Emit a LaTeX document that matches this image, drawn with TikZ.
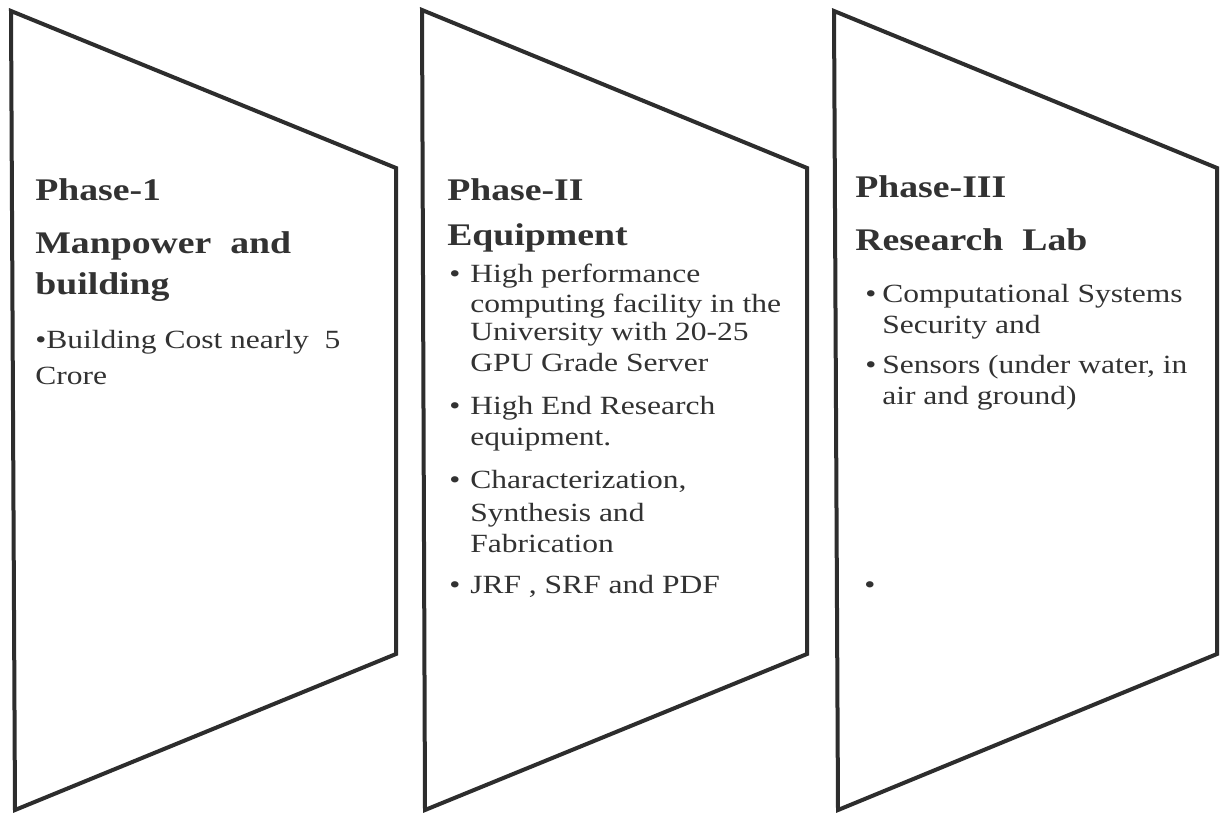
\documentclass[tikz,border=0pt]{standalone}
\usepackage{fontspec}
\setmainfont{Liberation Serif}[FakeStretch=1.2]
\usepackage{xcolor}
\definecolor{phaseline}{RGB}{45,45,45}
\definecolor{phasetext}{RGB}{50,50,50}

\tikzset{
  phasebox/.style={draw=phaseline, line width=3pt, line join=miter},
  phasetitle/.style={anchor=base west, inner sep=0pt, text=phasetext, font=\fontsize{23.6}{28}\selectfont\bfseries},
  phaseitem/.style={anchor=base west, inner sep=0pt, text=phasetext, font=\fontsize{19.7}{23}\selectfont},
}

\begin{document}
\begin{tikzpicture}[x=0.75pt, y=-0.75pt]
    \fill[white] (0,0) rectangle (1220,813);
    \useasboundingbox (0,0) rectangle (1220,813);

    % Phase 1 - Manpower
    \draw[phasebox] (11,11) -- (396,168) -- (396,654) -- (15,810) -- cycle;
    \node[phasetitle] (ph1) at (35,200) {Phase-1};
    \node[phasetitle] (mp1) at (35,253) {Manpower\ \ and};
    \node[phasetitle] (mp2) at (35,294) {building};
    \node[phaseitem] (bc1) at (35,348) {\textbullet Building Cost nearly\ \ 5};
    \node[phaseitem] (bc2) at (35,384) {Crore};

    % Phase 2 - Equipment
    \draw[phasebox] (422,10) -- (807,168) -- (807,654) -- (425,810) -- cycle;
    \node[phasetitle] (ph2) at (447,200) {Phase-II};
    \node[phasetitle] (eq1) at (447,245) {Equipment};
    \node[phaseitem] (hb1) at (449,282) {\textbullet};
    \node[phaseitem] (hp1) at (470,282) {High performance};
    \node[phaseitem] (hp2) at (470,312) {computing facility in the};
    \node[phaseitem] (hp3) at (470,340) {University with 20-25};
    \node[phaseitem] (hp4) at (470,371) {GPU Grade Server};
    \node[phaseitem] (hb2) at (449,414) {\textbullet};
    \node[phaseitem] (he1) at (470,414) {High End Research};
    \node[phaseitem] (he2) at (470,445) {equipment.};
    \node[phaseitem] (hb3) at (449,488) {\textbullet};
    \node[phaseitem] (cs1) at (470,488) {Characterization,};
    \node[phaseitem] (cs2) at (470,521) {Synthesis and};
    \node[phaseitem] (cs3) at (470,552) {Fabrication};
    \node[phaseitem] (hb4) at (449,593) {\textbullet};
    \node[phaseitem] (jr1) at (470,593) {JRF , SRF and PDF};

    % Phase 3 - Research lab
    \draw[phasebox] (834,11) -- (1217,168) -- (1217,654) -- (838,810) -- cycle;
    \node[phasetitle] (ph3) at (855,197) {Phase-III};
    \node[phasetitle] (rl1) at (855,250) {Research\ \ Lab};
    \node[phaseitem] (rb1) at (865,302) {\textbullet};
    \node[phaseitem] (co1) at (882,302) {Computational Systems};
    \node[phaseitem] (co2) at (882,333) {Security and};
    \node[phaseitem] (rb2) at (865,373) {\textbullet};
    \node[phaseitem] (se1) at (882,373) {Sensors (under water, in};
    \node[phaseitem] (se2) at (882,404) {air and ground)};
    \node[phaseitem] (rb3) at (864,593) {\textbullet};
\end{tikzpicture}
\end{document}
